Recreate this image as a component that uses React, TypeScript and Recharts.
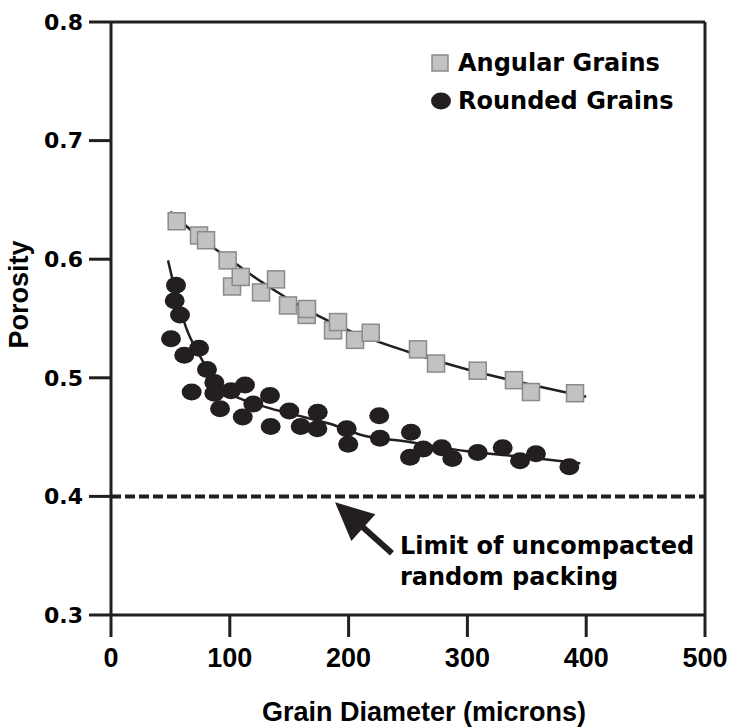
import React from 'react';
import {
  ComposedChart,
  XAxis,
  YAxis,
  Scatter,
  Line,
  ReferenceLine,
} from 'recharts';

// ---- data ----
const angularDiameter = [55.3, 74.1, 80.0, 98.2, 101.9, 109.2, 126.3, 138.9, 149.0, 164.7, 165.0, 186.9, 191.1, 205.4, 218.6, 258.4, 273.6, 308.7, 339.2, 353.5, 390.6];
const angularPorosity = [0.632, 0.62, 0.616, 0.599, 0.577, 0.585, 0.572, 0.583, 0.561, 0.553, 0.558, 0.54, 0.547, 0.532, 0.538, 0.524, 0.512, 0.506, 0.498, 0.488, 0.487];

const roundedDiameter = [54.7, 53.6, 58.1, 50.5, 74.1, 61.7, 80.8, 87.0, 67.9, 112.8, 101.0, 133.8, 87.0, 91.8, 119.8, 110.9, 150.1, 134.4, 159.7, 174.0, 173.7, 198.4, 199.7, 225.8, 226.4, 252.5, 251.7, 262.9, 278.4, 287.3, 308.7, 329.7, 344.3, 357.7, 385.8];
const roundedPorosity = [0.578, 0.565, 0.553, 0.533, 0.525, 0.519, 0.507, 0.496, 0.488, 0.494, 0.489, 0.485, 0.487, 0.474, 0.478, 0.467, 0.472, 0.459, 0.459, 0.471, 0.457, 0.457, 0.444, 0.468, 0.449, 0.454, 0.433, 0.44, 0.441, 0.432, 0.437, 0.441, 0.43, 0.436, 0.425];

const angularFitX = [50, 75, 100, 125, 150, 175, 200, 250, 300, 350, 400];
const angularFitY = [0.64, 0.618, 0.6, 0.582, 0.566, 0.552, 0.54, 0.522, 0.507, 0.495, 0.484];

const roundedFitX = [48, 55, 63, 75, 88, 100, 125, 150, 185, 210, 250, 300, 350, 395];
const roundedFitY = [0.599, 0.57, 0.543, 0.518, 0.497, 0.487, 0.477, 0.47, 0.461, 0.452, 0.446, 0.438, 0.433, 0.428];

const xTicks = [0, 100, 200, 300, 400, 500];
const yTicks = [0.3, 0.4, 0.5, 0.6, 0.7, 0.8];

const limitPorosity = 0.4;
const arrowTail = { x: 236.5, y: 0.352 };
const arrowTip = { x: 188.6, y: 0.395 };

const seriesNames = ['Angular Grains', 'Rounded Grains'];
const annotationLines = ['Limit of uncompacted', 'random packing'];
const xTitle = 'Grain Diameter (microns)';
const yTitle = 'Porosity';

const zip = (xs: number[], ys: number[]) => xs.map((x, i) => ({ x, y: ys[i] }));
const angularData = zip(angularDiameter, angularPorosity);
const roundedData = zip(roundedDiameter, roundedPorosity);
const angularFit = zip(angularFitX, angularFitY);
const roundedFit = zip(roundedFitX, roundedFitY);

const INK = '#231f20';
const WIDE = '"DejaVu Sans", sans-serif';
const NARROW = '"Liberation Sans", Arial, sans-serif';

const SquareShape = (p: any) => (
  <rect x={p.cx - 8.5} y={p.cy - 8.5} width={17} height={17} fill="#c2c2c2" stroke="#8a8a8a" strokeWidth={1.5} />
);
const CircleShape = (p: any) => <ellipse cx={p.cx} cy={p.cy} rx={10} ry={8.5} fill={INK} />;

const ArrowShape = (p: any) => {
  const { x1, y1, x2, y2 } = p;
  const dx = x2 - x1;
  const dy = y2 - y1;
  const len = Math.sqrt(dx * dx + dy * dy) || 1;
  const ux = dx / len;
  const uy = dy / len;
  const headLen = 38;
  const half = 18;
  const bx = x2 - ux * headLen;
  const by = y2 - uy * headLen;
  const px = -uy;
  const py = ux;
  const pts = `${x2},${y2} ${bx + px * half},${by + py * half} ${bx - px * half},${by - py * half}`;
  return (
    <g>
      <line x1={x1} y1={y1} x2={bx + ux * 4} y2={by + uy * 4} stroke={INK} strokeWidth={6} />
      <polygon points={pts} fill={INK} />
      <text x={x1 + 8} y={y1 + 1} fontFamily={WIDE} fontWeight={700} fontSize={24} fill="#000">
        {annotationLines[0]}
      </text>
      <text x={x1 + 8} y={y1 + 32} fontFamily={WIDE} fontWeight={700} fontSize={24} fill="#000">
        {annotationLines[1]}
      </text>
    </g>
  );
};

const YTitle = (props: any) => {
  const vb = props.viewBox || { x: 0, y: 22, width: 111, height: 593 };
  const x = vb.x + 28;
  const y = vb.y + vb.height / 2 - 24;
  return (
    <text x={x} y={y} transform={`rotate(-90, ${x}, ${y})`} textAnchor="middle" fontFamily={NARROW} fontWeight={700} fontSize={27} fill="#000">
      {yTitle}
    </text>
  );
};

export default function App() {
  return (
    <div style={{ position: 'relative', width: 733, height: 728 }}>
      <style>{'body{margin:0}'}</style>
      <ComposedChart width={733} height={728} margin={{ top: 22, right: 28, left: 0, bottom: 0 }}>
        <XAxis
          type="number"
          dataKey="x"
          domain={[0, 500]}
          ticks={xTicks}
          interval={0}
          allowDataOverflow
          height={113}
          tickSize={22}
          tickMargin={11}
          axisLine={{ stroke: INK, strokeWidth: 3 }}
          tickLine={{ stroke: INK, strokeWidth: 3 }}
          tick={{ fill: '#000', fontFamily: NARROW, fontWeight: 700, fontSize: 27 }}
          label={{ value: xTitle, position: 'insideBottom', offset: 7, dx: 16, style: { fill: '#000', fontFamily: NARROW, fontWeight: 700, fontSize: 27 } }}
        />
        <YAxis
          type="number"
          dataKey="y"
          domain={[0.3, 0.8]}
          ticks={yTicks}
          interval={0}
          allowDataOverflow
          width={111}
          tickSize={22}
          tickMargin={6}
          tickFormatter={(v: number) => v.toFixed(1)}
          axisLine={{ stroke: INK, strokeWidth: 3 }}
          tickLine={{ stroke: INK, strokeWidth: 3 }}
          tick={{ fill: '#000', fontFamily: WIDE, fontWeight: 700, fontSize: 22 }}
          label={<YTitle />}
        />
        <ReferenceLine y={0.8} stroke={INK} strokeWidth={3} />
        <ReferenceLine x={500} stroke={INK} strokeWidth={3} />
        <ReferenceLine y={limitPorosity} stroke={INK} strokeWidth={4} strokeDasharray="10 4" />
        <ReferenceLine segment={[arrowTail, arrowTip]} shape={ArrowShape} />
        <Line data={angularFit} dataKey="y" type="monotone" stroke={INK} strokeWidth={2.5} dot={false} activeDot={false} isAnimationActive={false} />
        <Line data={roundedFit} dataKey="y" type="monotone" stroke={INK} strokeWidth={2.5} dot={false} activeDot={false} isAnimationActive={false} />
        <Scatter data={angularData} dataKey="y" shape={SquareShape} isAnimationActive={false} />
        <Scatter data={roundedData} dataKey="y" shape={CircleShape} isAnimationActive={false} />
      </ComposedChart>
      <div style={{ position: 'absolute', left: 430, top: 44, fontFamily: WIDE, fontWeight: 700, fontSize: 24, color: '#000' }}>
        <div style={{ display: 'flex', alignItems: 'center', height: 38 }}>
          <svg width={20} height={20} style={{ marginRight: 8 }}>
            <rect x={2} y={2} width={16} height={16} fill="#c2c2c2" stroke="#8a8a8a" strokeWidth={1.5} />
          </svg>
          <span style={{ lineHeight: '38px' }}>{seriesNames[0]}</span>
        </div>
        <div style={{ display: 'flex', alignItems: 'center', height: 38 }}>
          <svg width={22} height={20} style={{ marginRight: 6 }}>
            <ellipse cx={11} cy={10} rx={10} ry={8.5} fill={INK} />
          </svg>
          <span style={{ lineHeight: '38px' }}>{seriesNames[1]}</span>
        </div>
      </div>
    </div>
  );
}
